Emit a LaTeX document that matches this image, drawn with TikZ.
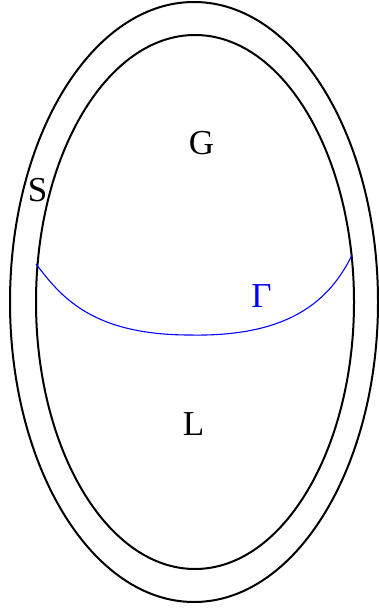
\documentclass[tikz,border=0pt]{standalone}
\usepackage{fontspec}
\setmainfont{Liberation Serif}
\usetikzlibrary{shapes.geometric}
\begin{document}
\begin{tikzpicture}[x=1pt,y=-1pt,
  oval/.style={draw=black,line width=2pt,ellipse,inner sep=0pt},
  lbl/.style={font=\fontsize{35}{38}\selectfont,inner sep=0pt},
  gam/.style={draw=blue,line width=1.1pt}]
\useasboundingbox (0,0) rectangle (379,609);
\node[oval,minimum width=368pt,minimum height=600pt] (outer) at (194,302) {};
\node[oval,minimum width=318pt,minimum height=534pt] (inner) at (195,302) {};
\coordinate (gl) at (36,264);
\coordinate (gm) at (190,335);
\coordinate (gr) at (352,255);
\draw[gam] (gl) .. controls (60,295) and (90,335) .. (gm) .. controls (290,337) and (330,300) .. (gr);
\node[lbl] (G) at (201.5,143.5) {G};
\node[lbl] (S) at (37.5,190.5) {S};
\node[lbl] (L) at (193.5,424) {L};
\node[lbl,text=blue] (Gamma) at (261.5,296.5) {Γ};
\end{tikzpicture}
\end{document}
